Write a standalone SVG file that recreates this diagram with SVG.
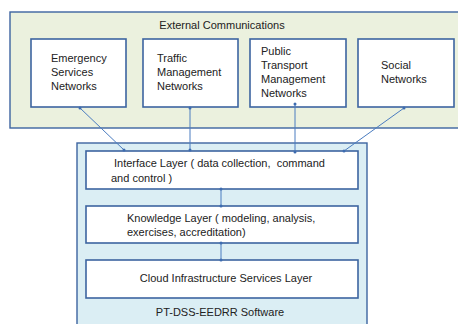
<svg xmlns="http://www.w3.org/2000/svg" width="458" height="324" viewBox="0 0 458 324">
<style>
text{font-family:"Liberation Sans",Arial,sans-serif;font-size:11px;fill:#222}
.box{fill:#fff;stroke:#3d64a0;stroke-width:1.6}
.con{stroke:#4a7cc0;stroke-width:1;fill:none;marker-start:url(#dot);marker-end:url(#dot)}
</style>
<defs>
<marker id="dot" viewBox="0 0 4 4" refX="2" refY="2" markerWidth="4" markerHeight="4" markerUnits="userSpaceOnUse">
<circle cx="2" cy="2" r="1.5" fill="#3d6cb0"/>
</marker>
</defs>
<rect width="458" height="324" fill="#fff"/>
<g id="external">
<rect x="10" y="12" width="460" height="116" fill="#ebf1de" stroke="#3d64a0" stroke-width="1.4"/>
<text x="222" y="29" text-anchor="middle">External Communications</text>
</g>
<g id="software">
<rect x="77" y="143" width="290" height="190" fill="#dbeef4" stroke="#3d64a0" stroke-width="1.4"/>
<text x="220" y="316" text-anchor="middle">PT-DSS-EEDRR Software</text>
</g>
<g id="emergency">
<rect class="box" x="31" y="39" width="95" height="68"/>
<text x="51" y="62">Emergency</text>
<text x="51" y="76">Services</text>
<text x="51" y="90">Networks</text>
</g>
<g id="traffic">
<rect class="box" x="143" y="39" width="95" height="68"/>
<text x="157" y="62">Traffic</text>
<text x="157" y="76">Management</text>
<text x="157" y="90">Networks</text>
</g>
<g id="public">
<rect class="box" x="250" y="39" width="96" height="68"/>
<text x="261" y="55">Public</text>
<text x="261" y="69">Transport</text>
<text x="261" y="83">Management</text>
<text x="261" y="97">Networks</text>
</g>
<g id="social">
<rect class="box" x="358" y="39" width="96" height="68"/>
<text x="381" y="69">Social</text>
<text x="381" y="83">Networks</text>
</g>
<g id="interface">
<rect class="box" x="86" y="151" width="272" height="38"/>
<text x="114" y="167" xml:space="preserve">Interface Layer ( data collection,  command</text>
<text x="111" y="182">and control )</text>
</g>
<g id="knowledge">
<rect class="box" x="86" y="206" width="272" height="37"/>
<text x="127" y="222">Knowledge Layer ( modeling, analysis,</text>
<text x="127" y="236">exercises, accreditation)</text>
</g>
<g id="cloud">
<rect class="box" x="86" y="260" width="272" height="38"/>
<text x="226" y="282" text-anchor="middle">Cloud Infrastructure Services Layer</text>
</g>
<g id="connectors">
<line class="con" x1="80" y1="108" x2="124" y2="150"/>
<line class="con" x1="190" y1="108" x2="190" y2="150"/>
<line class="con" x1="295" y1="104" x2="295" y2="152"/>
<line class="con" x1="404" y1="108" x2="344" y2="151"/>
<line class="con" x1="221" y1="189" x2="221" y2="206"/>
<line class="con" x1="221" y1="243" x2="221" y2="260"/>
</g>
</svg>
